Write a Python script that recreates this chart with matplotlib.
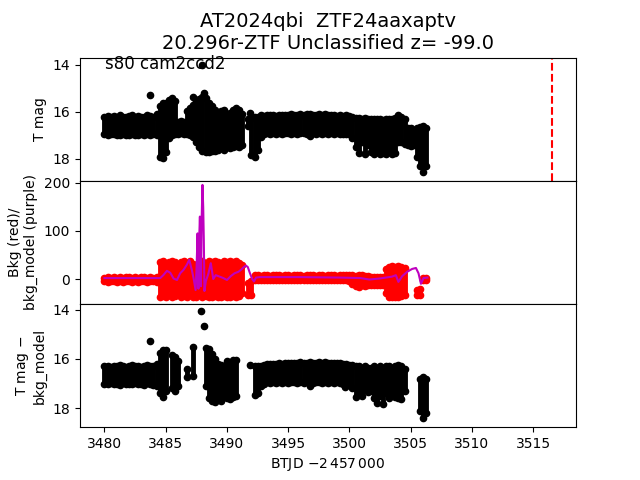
import matplotlib
matplotlib.use("Agg")
import matplotlib.pyplot as plt
import numpy as np

nan = np.nan

# ── data (binned envelopes, 0.25 d) ─────────────────────────────────────────
t_days = [
    3480.00, 3480.25, 3480.50, 3480.75, 3481.00, 3481.25, 3481.50, 3481.75, 3482.00, 3482.25,
    3482.50, 3482.75, 3483.00, 3483.25, 3483.50, 3483.75, 3484.00, 3484.25, 3484.50, 3484.75,
    3485.00, 3485.25, 3485.50, 3485.75, 3486.00, 3486.25, 3486.50, 3486.75, 3487.00, 3487.25,
    3487.50, 3487.75, 3488.00, 3488.25, 3488.50, 3488.75, 3489.00, 3489.25, 3489.50, 3489.75,
    3490.00, 3490.25, 3490.50, 3490.75, 3491.00, 3491.25, 3491.50, 3491.75, 3492.00, 3492.25,
    3492.50, 3492.75, 3493.00, 3493.25, 3493.50, 3493.75, 3494.00, 3494.25, 3494.50, 3494.75,
    3495.00, 3495.25, 3495.50, 3495.75, 3496.00, 3496.25, 3496.50, 3496.75, 3497.00, 3497.25,
    3497.50, 3497.75, 3498.00, 3498.25, 3498.50, 3498.75, 3499.00, 3499.25, 3499.50, 3499.75,
    3500.00, 3500.25, 3500.50, 3500.75, 3501.00, 3501.25, 3501.50, 3501.75, 3502.00, 3502.25,
    3502.50, 3502.75, 3503.00, 3503.25, 3503.50, 3503.75, 3504.00, 3504.25, 3504.50, 3504.75,
    3505.00, 3505.25, 3505.50, 3505.75, 3506.00, 3506.25,
]

# T mag: bright / faint edge of the points in each bin
tmag_bright = [
    16.20, 16.18, 16.22, 16.17, 16.20, 16.15, 16.20, 16.22, 16.18, 16.15,
    16.20, 16.17, 16.22, 16.20, 16.15, 16.18, 16.20, 16.10, 15.75, 15.60,
    15.60, 15.50, 15.40, 15.55, 16.45, 16.40, 16.45, 15.95, 15.85, 15.80,
    15.55, 15.45, 15.35, 15.40, 15.60, 15.75, 15.90, 16.05, 15.95, 15.90,
    16.10, 16.05, 15.90, 15.85, 15.90, 16.10, nan, 16.30, 16.25, 16.20,
    16.20, 16.15, 16.18, 16.15, 16.12, 16.15, 16.18, 16.14, 16.12, 16.15,
    16.12, 16.10, 16.14, 16.12, 16.10, 16.13, 16.11, 16.10, 16.14, 16.12,
    16.10, 16.12, 16.10, 16.13, 16.15, 16.12, 16.16, 16.14, 16.18, 16.15,
    16.18, 16.20, 16.25, 16.25, 16.30, 16.25, 16.30, 16.30, 16.30, 16.32,
    16.30, 16.35, 16.30, 16.30, 16.30, 16.25, 16.15, 16.20, 16.30, 16.70,
    16.70, 16.75, 16.70, 16.65, 16.60, 16.70,
]
tmag_faint = [
    16.95, 17.00, 16.95, 16.92, 16.98, 17.00, 16.95, 16.97, 17.00, 16.93,
    16.98, 17.00, 16.95, 16.97, 16.93, 17.00, 16.95, 17.00, 17.90, 17.95,
    17.70, 17.10, 17.00, 16.95, 16.95, 16.90, 16.95, 16.95, 17.00, 17.05,
    17.30, 17.50, 17.65, 17.70, 17.70, 17.65, 17.65, 17.60, 17.55, 17.60,
    17.50, 17.55, 17.50, 17.45, 17.50, 17.40, nan, 16.60, 17.85, 17.90,
    17.60, 17.05, 16.92, 16.90, 16.93, 16.88, 16.92, 16.90, 16.93, 16.90,
    16.88, 16.92, 16.90, 16.93, 16.88, 16.90, 16.92, 16.90, 16.88, 16.92,
    16.90, 16.93, 16.90, 16.92, 16.88, 16.92, 16.90, 16.93, 16.95, 16.92,
    16.95, 17.10, 17.50, 17.75, 17.30, 17.80, 17.40, 17.70, 17.80, 17.70,
    17.80, 17.75, 17.80, 17.70, 17.80, 17.75, 17.30, 17.30, 17.35, 17.40,
    17.45, 17.40, 17.90, 18.30, 18.55, 18.30,
]
tmag_extra_t = [3483.73, 3487.25, 3487.25, 3488.09, 3487.96, 3491.91, 3496.81]
tmag_extra_m = [15.28, 15.36, 15.70, 15.18, 14.00, 16.05, 17.03]

# background flux: upper / lower edge per bin
bkg_hi = [
    3, 4, 3, 5, 3, 4, 3, 4, 5, 3,
    4, 3, 5, 4, 3, 4, 3, 5, 35, 37,
    33, 36, 38, 35, 30, 36, 38, 34, 37, 32,
    30, 36, 38, 33, 37, 35, 38, 36, 34, 37,
    35, 38, 36, 37, 34, 30, nan, -8, -5, 8,
    8, 7, 9, 8, 7, 9, 8, 8, 7, 9,
    8, 7, 8, 9, 8, 7, 8, 9, 8, 7,
    8, 9, 7, 8, 8, 9, 7, 8, 9, 8,
    8, 8, 7, 8, 8, 7, 6, 5, 5, 5,
    5, 5, 20, 26, 28, 25, 27, 26, 22, nan,
    nan, nan, -22, -20, 2, 3,
]
bkg_lo = [
    -5, -6, -5, -4, -6, -5, -6, -5, -4, -6,
    -5, -6, -5, -4, -6, -5, -5, -6, -38, -36,
    -37, -33, -38, -36, -30, -38, -35, -37, -34, -38,
    -37, -32, -38, -36, -37, -38, -35, -37, -38, -36,
    -37, -38, -35, -37, -36, -30, nan, -34, -33, -3,
    -2, -3, -2, -2, -3, -2, -2, -3, -2, -2,
    -3, -2, -2, -3, -2, -2, -3, -2, -2, -3,
    -2, -2, -3, -2, -2, -3, -2, -2, -3, -2,
    -4, -10, -14, -16, -12, -15, -13, -12, -12, -12,
    -12, -12, -30, -37, -38, -37, -38, -36, -34, nan,
    nan, nan, -34, -33, -3, -2,
]

# background model (purple line)
model_t = [
    3480.00, 3482.50, 3484.55, 3484.80, 3485.10, 3485.37, 3485.64, 3485.92, 3486.18, 3486.45,
    3486.73, 3486.92, 3487.14, 3487.30, 3487.44, 3487.52, 3487.60, 3487.67, 3487.74, 3487.79,
    3487.84, 3487.88, 3487.93, 3488.00, 3488.06, 3488.11, 3488.16, 3488.27, 3488.47, 3488.68,
    3488.88, 3489.08, 3489.40, 3489.70, 3490.00, 3490.31, 3490.62, 3490.93, 3491.14, 3491.34,
    3491.54, 3491.70, 3491.85, 3492.06, 3492.21, 3492.37, 3492.68, 3496.00, 3499.26, 3500.90,
    3501.62, 3502.44, 3502.97, 3503.48, 3503.79, 3504.00, 3504.31, 3504.71, 3505.12, 3505.43,
    3505.64, 3505.84, 3506.05, 3506.36,
]
model_val = [
    2, 2, 2, 8, 17, 13, 1, -2, 12, 19,
    30, 40, 18, -2, -23, 25, 95, -20, 90, 130,
    60, -15, 120, 196, 150, 80, -25, -5, 10, 33,
    0, 8, 5, 2, -2, 6, 12, 15, 19, 24,
    28, 25, 14, 0, -5, 3, 4, 4, 3, 2,
    -1, 1, 3, 5, 8, -6, 6, 15, 21, 23,
    12, -10, 2, 3,
]

# T mag - bkg_model
sub_bright = [
    16.30, 16.28, 16.32, 16.27, 16.30, 16.25, 16.30, 16.32, 16.28, 16.25,
    16.30, 16.27, 16.32, 16.30, 16.25, 16.28, 16.30, 16.20, 15.75, 15.62,
    15.65, nan, 15.85, 15.90, 16.10, nan, nan, 16.40, nan, 15.50,
    nan, nan, nan, 15.55, 15.60, 15.80, 16.00, 16.20, 16.25, 16.30,
    16.10, 16.15, 16.05, 16.05, nan, nan, nan, nan, nan, 16.30,
    16.30, 16.30, 16.25, 16.22, 16.20, 16.22, 16.20, 16.18, 16.20, 16.17,
    16.15, 16.18, 16.15, 16.17, 16.14, 16.16, 16.15, 16.13, 16.16, 16.15,
    16.13, 16.15, 16.14, 16.16, 16.15, 16.17, 16.15, 16.18, 16.20, 16.22,
    16.25, 16.25, 16.30, 16.30, 16.35, 16.30, 16.35, 16.35, 16.30, 16.35,
    16.30, 16.35, 16.30, 16.30, 16.35, 16.30, 16.25, 16.30, 16.40, nan,
    nan, nan, nan, 16.80, 16.75, 16.80,
]
sub_faint = [
    17.00, 17.03, 16.98, 17.02, 17.00, 17.05, 16.98, 17.02, 17.00, 17.03,
    16.98, 17.02, 17.00, 17.05, 16.98, 17.02, 17.05, 17.10, 17.40, 17.55,
    17.30, nan, 17.20, 17.30, 17.10, nan, nan, 16.75, nan, 16.70,
    nan, nan, nan, 17.10, 17.60, 17.70, 17.75, 17.65, 17.70, 17.55,
    17.60, 17.65, 17.55, 17.50, nan, nan, nan, nan, nan, 17.45,
    17.40, 17.10, 17.00, 16.95, 16.97, 16.93, 16.96, 16.95, 16.98, 16.94,
    16.96, 16.93, 16.95, 16.97, 16.94, 16.96, 16.95, 16.93, 16.97, 16.95,
    16.94, 16.96, 16.95, 16.98, 16.95, 16.97, 16.95, 16.98, 17.00, 16.97,
    17.05, 17.20, 17.55, 17.30, 17.50, 17.25, 17.35, 17.30, 17.60, 17.80,
    17.50, 17.85, 17.40, 17.60, 17.45, 17.55, 17.60, 17.65, 17.30, nan,
    nan, nan, nan, 18.10, 18.40, 18.20,
]
sub_extra_t = [3483.73, 3487.84, 3488.09, 3491.91, 3496.81, 3499.67]
sub_extra_m = [15.27, 14.04, 14.65, 16.24, 17.09, 17.13]

disc_time = 3516.58


def draw_band(ax, t, lo, hi, color):
    t, lo, hi = np.array(t), np.array(lo, float), np.array(hi, float)
    m = ~np.isnan(lo)
    ax.vlines(t[m], lo[m], hi[m], color=color, lw=3.5)
    ax.plot(t[m], lo[m], "o", color=color, ms=4.5)
    ax.plot(t[m], hi[m], "o", color=color, ms=4.5)


fig, axs = plt.subplots(3, 1, sharex=True, figsize=(6.4, 4.8))
fig.subplots_adjust(hspace=0)

# ── top: T mag ──
ax = axs[0]
draw_band(ax, t_days, tmag_bright, tmag_faint, "k")
ax.plot(tmag_extra_t, tmag_extra_m, "o", color="k", ms=4.5)
ax.axvline(disc_time, color="r", linestyle="--", linewidth=1.5)
ax.set_ylim(18.93, 13.69)
ax.set_yticks([14, 16, 18])
ax.set_ylabel("T mag")
ax.text(0.05, 0.95, "s80 cam2ccd2", transform=ax.transAxes, fontsize=12,
        va="center")
ax.set_title("AT2024qbi  ZTF24aaxaptv\n20.296r-ZTF Unclassified z= -99.0",
             fontsize=14)

# ── middle: background ──
ax = axs[1]
draw_band(ax, t_days, bkg_lo, bkg_hi, "r")
ax.plot(model_t, model_val, color="m", linewidth=1.5)
ax.set_ylim(-52, 204.5)
ax.set_yticks([0, 100, 200])
ax.set_ylabel("Bkg (red)/\nbkg_model (purple)")

# ── bottom: T mag - bkg_model ──
ax = axs[2]
draw_band(ax, t_days, sub_bright, sub_faint, "k")
ax.plot(sub_extra_t, sub_extra_m, "o", color="k", ms=4.5)
ax.set_ylim(18.78, 13.76)
ax.set_yticks([14, 16, 18])
ax.set_ylabel("T mag $-$\nbkg_model")
ax.set_xlabel(r"BTJD $-2\,457\,000$")
ax.set_xlim(3478.0, 3518.5)

plt.savefig("out.png", dpi=100)
